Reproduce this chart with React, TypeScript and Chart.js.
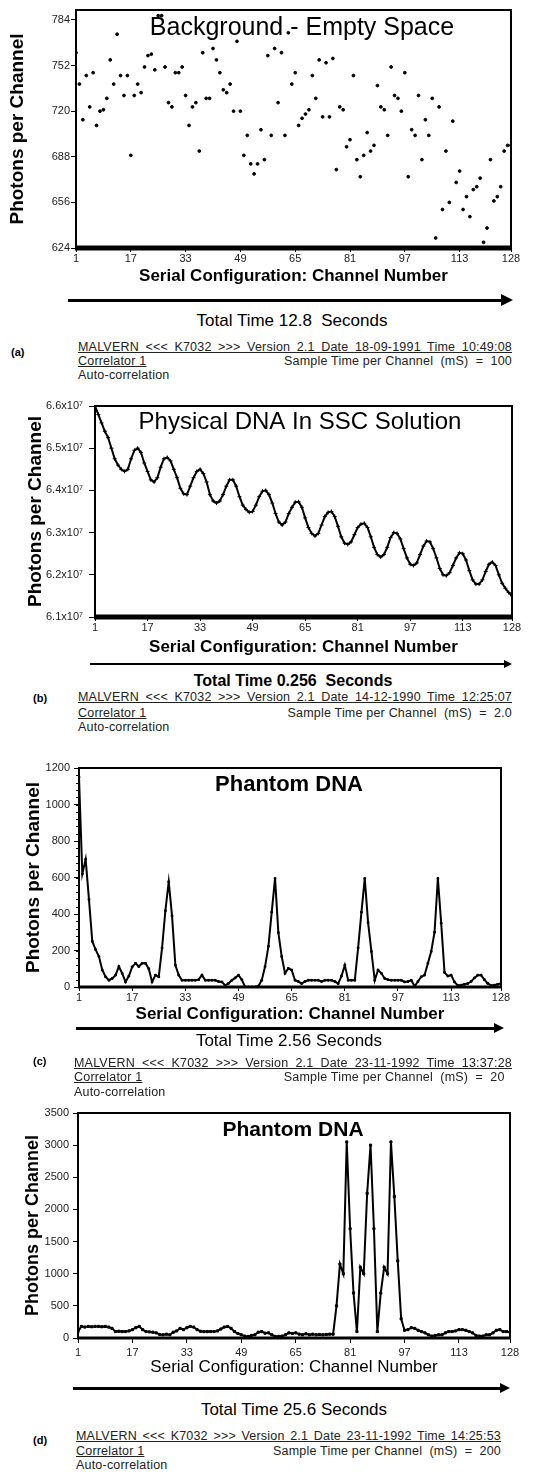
import React, { useEffect, useRef } from 'react';
import { Chart, registerables } from 'chart.js';

Chart.register(...registerables);

const FONT = "'Liberation Sans', Arial, Helvetica, sans-serif";

const CHANNELS: number[] = Array.from({ length: 128 }, (_, i) => i + 1);
const X_TICKS = [1, 17, 33, 49, 65, 81, 97, 113, 128];
const X_TITLE = 'Serial Configuration: Channel Number';
const Y_TITLE = 'Photons per Channel';

// (a) Background - Empty Space (photons per channel)
const BG_VALUES = [
  761, 739, 714, 745, 723, 747, 710, 720, 721, 729,
  756, 739, 774, 745, 731, 745, 689, 731, 739, 733,
  751, 759, 760, 749, 787, 787, 751, 726, 723, 747,
  747, 751, 731, 710, 723, 726, 692, 761, 729, 729,
  764, 756, 747, 735, 733, 739, 720, 769, 720, 689,
  703, 683, 676, 683, 707, 686, 759, 703, 764, 726,
  761, 703, 775, 739, 747, 710, 715, 718, 721, 745,
  729, 756, 716, 754, 716, 757, 679, 723, 721, 695,
  700, 745, 686, 674, 689, 705, 692, 696, 738, 723,
  721, 703, 751, 731, 729, 720, 747, 674, 707, 703,
  731, 686, 714, 703, 729, 631, 723, 651, 692, 656,
  713, 670, 678, 651, 660, 646, 665, 667, 673, 628,
  638, 686, 657, 660, 667, 692, 696, 696,
];
const BG_Y_TICKS = [624, 656, 688, 720, 752, 784];

// (b) Physical DNA in SSC solution (units of 10^7 photons per channel)
const SSC_VALUES = [
  6.600, 6.580, 6.560, 6.540, 6.525, 6.500, 6.475, 6.460, 6.450, 6.445,
  6.450, 6.475, 6.495, 6.500, 6.490, 6.465, 6.445, 6.425, 6.420, 6.430,
  6.455, 6.475, 6.478, 6.470, 6.450, 6.430, 6.405, 6.392, 6.390, 6.410,
  6.430, 6.445, 6.450, 6.440, 6.420, 6.390, 6.375, 6.370, 6.375, 6.390,
  6.410, 6.425, 6.425, 6.410, 6.385, 6.365, 6.355, 6.348, 6.350, 6.365,
  6.385, 6.398, 6.400, 6.390, 6.370, 6.345, 6.325, 6.318, 6.325, 6.345,
  6.360, 6.372, 6.373, 6.360, 6.335, 6.312, 6.298, 6.292, 6.298, 6.318,
  6.338, 6.348, 6.350, 6.338, 6.315, 6.290, 6.275, 6.272, 6.278, 6.295,
  6.312, 6.320, 6.322, 6.312, 6.290, 6.265, 6.248, 6.242, 6.248, 6.265,
  6.288, 6.300, 6.298, 6.285, 6.262, 6.240, 6.225, 6.222, 6.228, 6.248,
  6.268, 6.280, 6.278, 6.262, 6.240, 6.215, 6.200, 6.198, 6.205, 6.222,
  6.240, 6.252, 6.250, 6.235, 6.210, 6.188, 6.178, 6.178, 6.188, 6.208,
  6.225, 6.230, 6.222, 6.200, 6.180, 6.168, 6.158, 6.150,
];
const SSC_Y_TICKS = [6.1, 6.2, 6.3, 6.4, 6.5, 6.6];

// (c) Phantom DNA, 20 mS sample time
const PH1_VALUES = [
  1150, 620, 700, 480, 250, 205, 167, 93, 56, 37,
  47, 65, 112, 75, 28, 60, 110, 130, 112, 130,
  130, 100, 28, 65, 56, 214, 418, 577, 390, 120,
  65, 37, 37, 37, 37, 37, 40, 65, 37, 37,
  37, 37, 30, 28, 9, 20, 37, 50, 65, 40,
  0, 0, 0, 0, 5, 37, 112, 223, 410, 595,
  298, 167, 75, 102, 93, 37, 30, 19, 30, 37,
  37, 37, 37, 30, 37, 37, 37, 30, 19, 60,
  120, 37, 37, 37, 214, 410, 595, 353, 195, 37,
  93, 75, 47, 40, 37, 37, 37, 37, 28, 30,
  37, 4, 30, 56, 65, 130, 195, 300, 595, 350,
  80, 60, 65, 28, 9, 10, 15, 19, 30, 50,
  65, 65, 40, 20, 9, 10, 15, 19,
];
const PH1_Y_TICKS = [0, 200, 400, 600, 800, 1000, 1200];

// (d) Phantom DNA, 200 mS sample time
const PH2_VALUES = [
  100, 180, 170, 180, 175, 180, 180, 175, 180, 170,
  150, 100, 105, 100, 100, 110, 130, 160, 180, 130,
  100, 95, 90, 80, 55, 50, 60, 50, 90, 110,
  150, 130, 160, 180, 170, 130, 105, 100, 100, 100,
  100, 110, 140, 170, 180, 150, 100, 70, 50, 30,
  25, 40, 50, 90, 100, 75, 80, 50, 25, 25,
  30, 50, 80, 70, 80, 60, 50, 65, 50, 60,
  50, 55, 50, 55, 60, 60, 500, 1150, 1000, 3050,
  1700, 700, 100, 1100, 1000, 2250, 3000, 1700, 100, 700,
  1100, 1000, 3050, 2200, 1200, 300, 120, 130, 160, 150,
  120, 100, 80, 50, 30, 40, 50, 50, 80, 100,
  100, 110, 130, 130, 120, 100, 80, 40, 30, 30,
  50, 50, 80, 120, 130, 100, 100, 90,
];
const PH2_Y_TICKS = [0, 500, 1000, 1500, 2000, 2500, 3000, 3500];

type Panel = {
  values: number[];
  yMin: number;
  yMax: number;
  yTicks: number[];
  yFmt: (v: number) => string;
  title: string;
  titleFont: string;
  titleX: number;
  titleY: number;
  canvasTop: number;
  canvasH: number;
  padLeft: number;
  padRight: number;
  padTop: number;
  yWidth: number;
  xHeight: number;
  xTickLen: number;
  xTickPad: number;
  yTickLen: number;
  yTickPad: number;
  xTitleBold: boolean;
  xTitleSize: number;
  yTitleSize: number;
  showLine: boolean;
  lineWidth: number;
  pointStyle: string;
  pointRadius: number;
  bottomWidth: number;
  minorStep?: number;
};

const framePlugin = {
  id: 'frame',
  afterDatasetsDraw(chart: any, _args: any, o: any) {
    const { ctx, chartArea: a } = chart;
    ctx.save();
    ctx.strokeStyle = '#000';
    ctx.lineWidth = 2;
    ctx.strokeRect(a.left, a.top, a.right - a.left, a.bottom - a.top);
    ctx.lineWidth = o.bottomWidth;
    ctx.beginPath();
    ctx.moveTo(a.left - 1, a.bottom);
    ctx.lineTo(a.right + 1, a.bottom);
    ctx.stroke();
    if (o.minorStep) {
      const ys = chart.scales.y;
      ctx.lineWidth = 1;
      for (let v = ys.min; v <= ys.max + 0.001; v += o.minorStep) {
        const py = Math.round(ys.getPixelForValue(v)) + 0.5;
        ctx.beginPath();
        ctx.moveTo(a.left - 3, py);
        ctx.lineTo(a.left, py);
        ctx.stroke();
      }
    }
    ctx.fillStyle = '#000';
    ctx.font = o.titleFont;
    ctx.textAlign = 'center';
    ctx.textBaseline = 'middle';
    ctx.fillText(o.title, o.titleX, o.titleY);
    ctx.restore();
  },
};

function makeConfig(p: Panel): any {
  return {
    type: 'line',
    data: {
      datasets: [
        {
          data: p.values.map((v, i) => ({ x: CHANNELS[i], y: v })),
          showLine: p.showLine,
          borderColor: '#000',
          borderWidth: p.lineWidth,
          pointStyle: p.pointStyle,
          pointRadius: p.pointRadius,
          pointBackgroundColor: '#000',
          pointBorderColor: '#000',
          pointBorderWidth: 1,
          tension: 0,
          fill: false,
        },
      ],
    },
    options: {
      animation: false,
      responsive: false,
      maintainAspectRatio: false,
      devicePixelRatio: 1,
      layout: { padding: { left: p.padLeft, right: p.padRight, top: p.padTop, bottom: 0 } },
      plugins: {
        legend: { display: false },
        tooltip: { enabled: false },
        frame: {
          bottomWidth: p.bottomWidth,
          minorStep: p.minorStep,
          title: p.title,
          titleFont: p.titleFont,
          titleX: p.titleX,
          titleY: p.titleY - p.canvasTop,
        },
      },
      scales: {
        x: {
          type: 'linear',
          min: 1,
          max: 128,
          afterBuildTicks: (s: any) => {
            s.ticks = X_TICKS.map((v) => ({ value: v }));
          },
          afterFit: (s: any) => {
            s.height = p.xHeight;
          },
          border: { display: false },
          grid: {
            display: true,
            drawOnChartArea: false,
            drawTicks: true,
            tickLength: p.xTickLen,
            color: '#000',
            lineWidth: 1,
          },
          ticks: {
            color: '#222',
            font: { family: FONT, size: 11 },
            padding: p.xTickPad,
            maxRotation: 0,
            autoSkip: false,
            callback: (v: any) => String(v),
          },
          title: {
            display: true,
            text: X_TITLE,
            color: '#000',
            font: { family: FONT, size: p.xTitleSize, weight: p.xTitleBold ? 'bold' : 'normal' },
            padding: 0,
          },
        },
        y: {
          type: 'linear',
          min: p.yMin,
          max: p.yMax,
          afterBuildTicks: (s: any) => {
            s.ticks = p.yTicks.map((v) => ({ value: v }));
          },
          afterFit: (s: any) => {
            s.width = p.yWidth;
          },
          border: { display: false },
          grid: {
            display: true,
            drawOnChartArea: false,
            drawTicks: true,
            tickLength: p.yTickLen,
            color: '#000',
            lineWidth: 1,
          },
          ticks: {
            color: '#222',
            font: { family: FONT, size: 11 },
            padding: p.yTickPad,
            autoSkip: false,
            callback: (v: any) => p.yFmt(Number(v)),
          },
          title: {
            display: true,
            text: Y_TITLE,
            color: '#000',
            font: { family: FONT, size: p.yTitleSize, weight: 'bold' },
            padding: 0,
          },
        },
      },
    },
    plugins: [framePlugin],
  };
}

const PANEL_A: Panel = {
  values: BG_VALUES,
  yMin: 624,
  yMax: 791,
  yTicks: BG_Y_TICKS,
  yFmt: (v) => String(v),
  title: 'Background - Empty Space',
  titleFont: `25px ${FONT}`,
  titleX: 302,
  titleY: 28,
  canvasTop: 0,
  canvasH: 287,
  padLeft: 6,
  padRight: 33,
  padTop: 10,
  yWidth: 70,
  xHeight: 39,
  xTickLen: 4,
  xTickPad: 0,
  yTickLen: 5,
  yTickPad: 1,
  xTitleBold: true,
  xTitleSize: 17,
  yTitleSize: 19,
  showLine: false,
  lineWidth: 1,
  pointStyle: 'circle',
  pointRadius: 1.4,
  bottomWidth: 5,
};

const PANEL_B: Panel = {
  values: SSC_VALUES,
  yMin: 6.1,
  yMax: 6.6,
  yTicks: SSC_Y_TICKS,
  yFmt: (v) => `${v.toFixed(1)}x10\u2077`,
  title: 'Physical DNA In SSC Solution',
  titleFont: `24px ${FONT}`,
  titleX: 300,
  titleY: 422,
  canvasTop: 380,
  canvasH: 278,
  padLeft: 24,
  padRight: 32,
  padTop: 26,
  yWidth: 71,
  xHeight: 41,
  xTickLen: 4,
  xTickPad: 0,
  yTickLen: 6,
  yTickPad: 6,
  xTitleBold: true,
  xTitleSize: 17,
  yTitleSize: 19,
  showLine: true,
  lineWidth: 2,
  pointStyle: 'cross',
  pointRadius: 2,
  bottomWidth: 5,
};

const PANEL_C: Panel = {
  values: PH1_VALUES,
  yMin: 0,
  yMax: 1200,
  yTicks: PH1_Y_TICKS,
  yFmt: (v) => String(v),
  title: 'Phantom DNA',
  titleFont: `bold 22px ${FONT}`,
  titleX: 289,
  titleY: 785,
  canvasTop: 740,
  canvasH: 285,
  padLeft: 22,
  padRight: 43,
  padTop: 28,
  yWidth: 57,
  xHeight: 38,
  xTickLen: 4,
  xTickPad: 0,
  yTickLen: 5,
  yTickPad: 4,
  xTitleBold: true,
  xTitleSize: 17,
  yTitleSize: 19,
  showLine: true,
  lineWidth: 2,
  pointStyle: 'rect',
  pointRadius: 1.2,
  bottomWidth: 3,
  minorStep: 40,
};

const PANEL_D: Panel = {
  values: PH2_VALUES,
  yMin: 0,
  yMax: 3500,
  yTicks: PH2_Y_TICKS,
  yFmt: (v) => String(v),
  title: 'Phantom DNA',
  titleFont: `bold 21px ${FONT}`,
  titleX: 293,
  titleY: 1130,
  canvasTop: 1090,
  canvasH: 288,
  padLeft: 22,
  padRight: 34,
  padTop: 23,
  yWidth: 56,
  xHeight: 40,
  xTickLen: 5,
  xTickPad: 3,
  yTickLen: 5,
  yTickPad: 4,
  xTitleBold: false,
  xTitleSize: 17,
  yTitleSize: 18,
  showLine: true,
  lineWidth: 2,
  pointStyle: 'rect',
  pointRadius: 1.5,
  bottomWidth: 3,
};

function ChartPanel({ p }: { p: Panel }) {
  const ref = useRef<HTMLCanvasElement | null>(null);
  useEffect(() => {
    if (!ref.current) return;
    const chart = new Chart(ref.current, makeConfig(p));
    return () => chart.destroy();
  }, [p]);
  return (
    <canvas
      ref={ref}
      width={544}
      height={p.canvasH}
      style={{ position: 'absolute', left: 0, top: p.canvasTop, width: 544, height: p.canvasH, display: 'block' }}
    />
  );
}

function Txt({ x, y, size, bold, children }: { x: number; y: number; size: number; bold?: boolean; children: any }) {
  return (
    <div
      style={{
        position: 'absolute',
        left: x,
        top: y,
        transform: 'translate(-50%, -50%)',
        fontFamily: FONT,
        fontSize: size,
        fontWeight: bold ? 'bold' : 'normal',
        whiteSpace: 'nowrap',
        lineHeight: 1,
        color: '#000',
      }}
    >
      {children}
    </div>
  );
}

function Arrow({ x1, x2, y, w, head }: { x1: number; x2: number; y: number; w: number; head: number }) {
  return (
    <>
      <div style={{ position: 'absolute', left: x1, top: y - w / 2, width: x2 - x1 - head + 1, height: w, background: '#000' }} />
      <div
        style={{
          position: 'absolute',
          left: x2 - head,
          top: y - head / 2,
          width: 0,
          height: 0,
          borderTop: `${head / 2}px solid transparent`,
          borderBottom: `${head / 2}px solid transparent`,
          borderLeft: `${head}px solid #000`,
        }}
      />
    </>
  );
}

function Footer({
  left,
  right,
  y1,
  y2,
  y3,
  header,
  sample,
  label,
  labelX,
  labelY,
  size,
}: {
  left: number;
  right: number;
  y1: number;
  y2: number;
  y3: number;
  header: string;
  sample: string;
  label: string;
  labelX: number;
  labelY: number;
  size: number;
}) {
  const lh = size + 2;
  const base: any = {
    position: 'absolute',
    left,
    width: right - left,
    fontFamily: FONT,
    fontSize: size,
    lineHeight: `${lh}px`,
    color: '#222',
    letterSpacing: '0.2px',
  };
  return (
    <>
      <div
        style={{
          ...base,
          top: y1 - lh / 2,
          textAlign: 'justify',
          textAlignLast: 'justify',
          textDecoration: 'underline',
          height: lh,
        }}
      >
        {header}
      </div>
      <div style={{ ...base, top: y2 - lh / 2, display: 'flex', justifyContent: 'space-between' }}>
        <span style={{ textDecoration: 'underline' }}>Correlator 1</span>
        <span style={{ whiteSpace: 'pre' }}>{sample}</span>
      </div>
      <div style={{ ...base, top: y3 - lh / 2 }}>Auto-correlation</div>
      <div
        style={{
          position: 'absolute',
          left: labelX,
          top: labelY - 7,
          fontFamily: FONT,
          fontSize: 11,
          fontWeight: 'bold',
          lineHeight: '14px',
          color: '#000',
        }}
      >
        {label}
      </div>
    </>
  );
}

export default function App() {
  return (
    <div style={{ position: 'absolute', left: 0, top: 0, width: 544, height: 1473, background: '#fff', overflow: 'hidden' }}>
      <ChartPanel p={PANEL_A} />
      <Arrow x1={68} x2={513} y={300} w={3} head={12} />
      <Txt x={292} y={320} size={17}>Total Time 12.8&nbsp;&nbsp;Seconds</Txt>
      <Footer
        left={78}
        right={512}
        y1={347}
        y2={361}
        y3={375}
        header="MALVERN <<< K7032 >>> Version 2.1 Date 18-09-1991 Time 10:49:08"
        sample="Sample Time per Channel  (mS)  =  100"
        label="(a)"
        labelX={11}
        labelY={352}
        size={12.5}
      />

      <ChartPanel p={PANEL_B} />
      <Arrow x1={90} x2={512} y={664} w={2} head={8} />
      <Txt x={293} y={681} size={16} bold>
        Total Time 0.256&nbsp;&nbsp;Seconds
      </Txt>
      <Footer
        left={78}
        right={512}
        y1={697}
        y2={713}
        y3={727}
        header="MALVERN <<< K7032 >>> Version 2.1 Date 14-12-1990 Time 12:25:07"
        sample="Sample Time per Channel  (mS)  =  2.0"
        label="(b)"
        labelX={33}
        labelY={698}
        size={12.5}
      />

      <ChartPanel p={PANEL_C} />
      <Arrow x1={76} x2={504} y={1028} w={3} head={10} />
      <Txt x={289} y={1040} size={17}>Total Time 2.56 Seconds</Txt>
      <Footer
        left={74}
        right={512}
        y1={1063}
        y2={1077}
        y3={1092}
        header="MALVERN <<< K7032 >>> Version 2.1 Date 23-11-1992 Time 13:37:28"
        sample="Sample Time per Channel  (mS)  =  20  "
        label="(c)"
        labelX={33}
        labelY={1061}
        size={12.5}
      />

      <ChartPanel p={PANEL_D} />
      <Arrow x1={73} x2={510} y={1388} w={3} head={10} />
      <Txt x={294} y={1409} size={17}>Total Time 25.6 Seconds</Txt>
      <Footer
        left={76}
        right={501}
        y1={1436}
        y2={1451}
        y3={1465}
        header="MALVERN <<< K7032 >>> Version 2.1 Date 23-11-1992 Time 14:25:53"
        sample="Sample Time per Channel  (mS)  =  200"
        label="(d)"
        labelX={33}
        labelY={1440}
        size={12.5}
      />
    </div>
  );
}
